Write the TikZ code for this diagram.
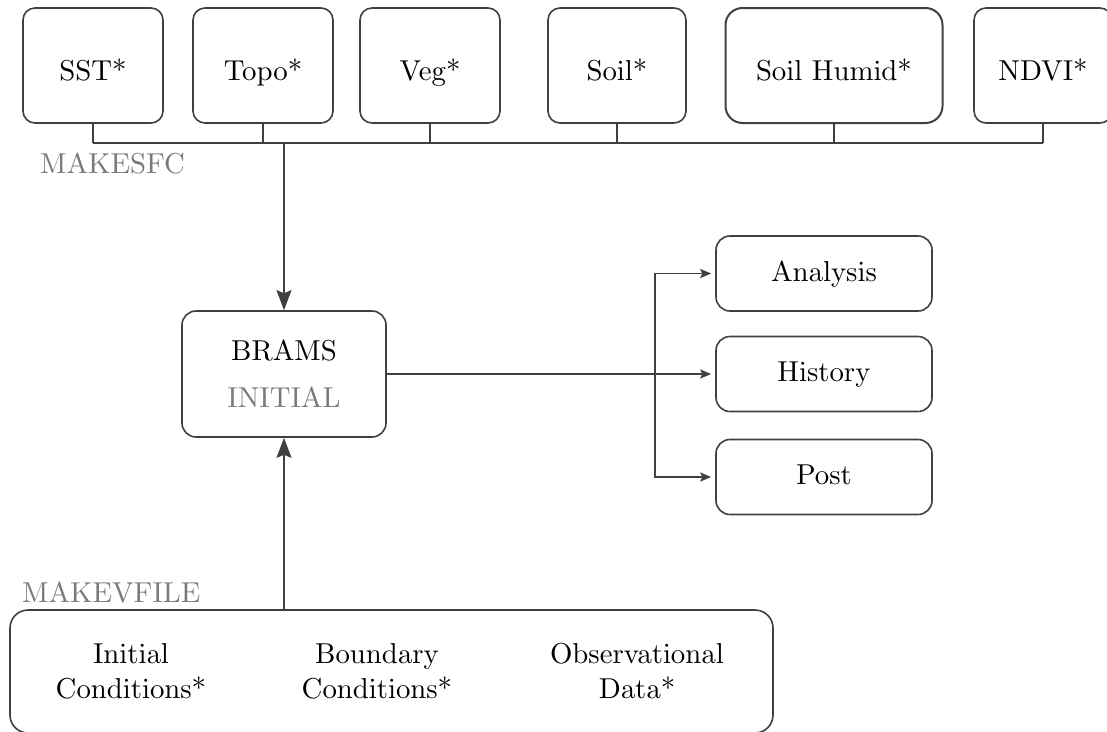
\documentclass[tikz,border=0pt]{standalone}
\usetikzlibrary{arrows.meta}
\definecolor{ink}{HTML}{404040}
\definecolor{note}{HTML}{7A7A7A}
% text face: the 10pt design of Computer Modern, enlarged
\font\diagfont=cmr10 at 28.8pt
\begin{document}
\begin{tikzpicture}[x=1pt, y=-1pt,
  font={\diagfont\baselineskip=35pt},
  box/.style={draw=ink, line width=1.6pt, rounded corners=12pt, inner sep=0pt},
  src/.style={box, minimum height=115pt, text height=35pt, text depth=6pt},
  result/.style={box, rounded corners=14pt, minimum width=216pt, minimum height=75pt,
              text height=21pt, text depth=6pt},
  wire/.style={draw=ink, line width=1.6pt},
  big/.style={wire, -{Stealth[length=20pt, width=15pt, inset=3pt]}},
  small/.style={wire, -{Stealth[length=11pt, width=9pt, inset=2pt]}, shorten >=4pt},
  tag/.style={text=note, inner sep=0pt, anchor=base west}]

\useasboundingbox (0,0) rectangle (1107,731);
\clip (0,0) rectangle (1107,731);

% surface data sources
\node[src, minimum width=140pt] (sst)   at (93,65.5)   {SST*};
\node[src, minimum width=140pt] (topo)  at (263,65.5)  {Topo*};
\node[src, minimum width=140pt] (veg)   at (430,65.5)  {Veg*};
\node[src, minimum width=138pt] (soil)  at (617,65.5)  {Soil*};
\node[src, minimum width=217pt, rounded corners=17pt, line width=2pt]
                                (humid) at (834,65.5)  {Soil Humid*};
\node[src, minimum width=138pt] (ndvi)  at (1043,65.5) {NDVI*};

% collecting bus
\coordinate (bus) at (0,143);
\foreach \n in {sst,topo,veg,soil,humid,ndvi}
  \draw[wire] (\n.south) -- (\n.south |- bus);
\draw[wire] (sst.south |- bus) -- (ndvi.south |- bus);
\node[tag] (makesfc) at (40,173) {MAKESFC};

% model initialisation
\node[box, rounded corners=14pt, minimum width=204pt, minimum height=126pt, align=center]
  (brams) at (284,374) {BRAMS\\[12pt]\textcolor{note}{INITIAL}};
\draw[big] (brams.north |- bus) -- (brams.north);

% outputs
\node[result] (analysis) at (824,273.5) {Analysis};
\node[result] (history)  at (824,374)   {History};
\node[result] (post)     at (824,477)   {Post};
\coordinate (fork) at (655,374);
\draw[small] (brams.east) -- (history.west);
\draw[small] (fork) |- (analysis.west);
\draw[small] (fork) |- (post.west);

% varfile inputs
\node[box, rounded corners=18pt, minimum width=763pt, minimum height=123pt]
  (inputs) at (391.5,671.5) {};
\node[align=center] (ic) at (131,671) {Initial\\Conditions*};
\node[align=center] (bc) at (377,671) {Boundary\\Conditions*};
\node[align=center] (od) at (637,671) {Observational\\Data*};
\node[tag] (makevfile) at (22,602) {MAKEVFILE};
\draw[big] (inputs.north -| brams) -- (brams.south);
\end{tikzpicture}
\end{document}
